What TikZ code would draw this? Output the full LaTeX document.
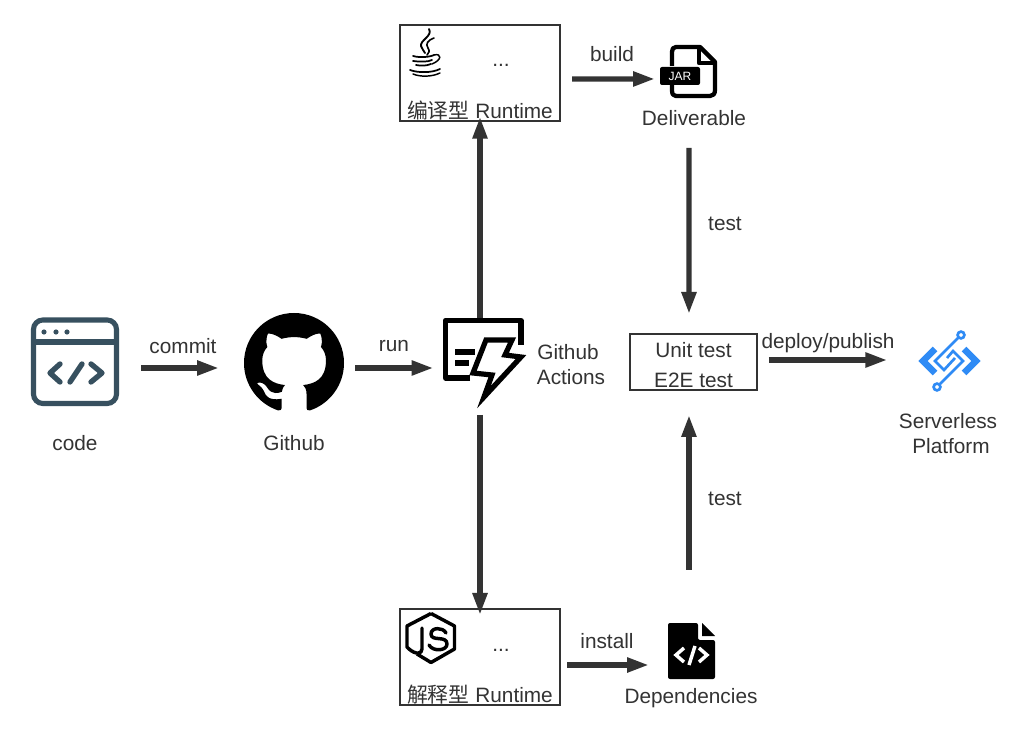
\documentclass[tikz,border=0pt]{standalone}
\usepackage{fontspec}
\setmainfont{Liberation Sans}
\newfontfamily\cjk{Noto Sans CJK SC}
\usetikzlibrary{arrows.meta,svg.path}
\definecolor{ink}{HTML}{333333}
\definecolor{slate}{HTML}{37505F}
\definecolor{azure}{HTML}{2F8BF5}
\tikzset{
  zone/.style={inner sep=0pt,outer sep=0pt},
  lbl/.style={inner sep=0pt,outer sep=0pt,text=ink,font=\fontsize{15.6}{18}\selectfont},
  rtbox/.style={draw=ink,line width=1.5pt,inner sep=0pt,outer sep=0pt,minimum width=120pt,minimum height=72pt},
  testbox/.style={draw=ink,line width=1.2pt,inner sep=0pt,outer sep=0pt,minimum width=95pt,minimum height=42pt},
  flow/.style={draw=ink,line width=4pt,-{Triangle[length=16.5pt,width=10.5pt]}},
}
\begin{document}
\begin{tikzpicture}[x=0.75pt,y=-0.75pt]
\path[use as bounding box] (0,0) rectangle (1032,730);
\fill[white] (0,0) rectangle (1032,730);

% zones (true extents of the icons)
\node[zone,minimum width=66pt,minimum height=66.75pt] (code) at (75,362) {};
\node[zone,minimum width=75pt,minimum height=73.5pt] (github) at (294,362) {};
\node[zone,minimum width=60.75pt,minimum height=66pt] (actions) at (480,361) {};
\node[zone,minimum width=42.75pt,minimum height=39.75pt] (jar) at (688.5,71.5) {};
\node[zone,minimum width=35.25pt,minimum height=42pt] (dep) at (691.5,651) {};
\node[zone,minimum width=45pt,minimum height=45pt] (srv) at (948,361) {};

% boxes
\node[rtbox] (rta) at (480,73) {};
\node[rtbox] (rtb) at (480,657) {};
\node[testbox] (tests) at (693.5,362) {};

% connectors
\draw[flow,shorten <=16.5pt,shorten >=18.75pt] ([yshift=-4.5pt]code.east) -- ([yshift=-4.5pt]github.west);
\draw[flow,shorten <=8.25pt,shorten >=4.5pt] ([yshift=-4.5pt]github.east) -- ([yshift=-5.25pt]actions.west);
\draw[flow,shorten <=-4.5pt,shorten >=-3.25pt] (actions.north) -- (rta.south);
\draw[flow,shorten <=7.5pt,shorten >=-4.5pt] (actions.south) -- (rtb.north);
\draw[flow,shorten <=9pt,shorten >=3.75pt] ([yshift=-4.5pt]rta.east) -- ([yshift=-5.6pt]jar.west);
\draw[flow,shorten <=5.25pt,shorten >=14.25pt] ([yshift=-6pt]rtb.east) -- ([yshift=-10.5pt]dep.west);
\draw[flow,shorten <=37.5pt,shorten >=15pt] ([xshift=0.4pt]jar.south) -- ([xshift=-3.4pt]tests.north);
\draw[flow,shorten <=39.75pt,shorten >=18.75pt] ([xshift=-1.9pt]dep.north) -- ([xshift=-3.4pt]tests.south);
\draw[flow,shorten <=9pt,shorten >=23pt] ([yshift=1.5pt]tests.east) -- ([yshift=0.75pt]srv.west);

% labels
\node[lbl] (lunit) at (693.5,350) {Unit test};
\node[lbl] (le2e) at (693.5,380) {E2E test};
\node[lbl] (lcommit) at (183,346) {commit};
\node[lbl] (lcode) at (75,443) {code};
\node[lbl] (lgit) at (294,443) {Github};
\node[lbl] (lrun) at (394,346) {run};
\node[lbl] (lact) at (568,352) {Github};
\node[lbl] (lact2) at (571,377) {Actions};
\node[lbl] (lbuild) at (612,54) {build};
\node[lbl] (ldel) at (694,118) {Deliverable};
\node[lbl] (ltest1) at (725,224) {test};
\node[lbl] (ltest2) at (725,499) {test};
\node[lbl] (ldeploy) at (828,343) {deploy/publish};
\node[lbl] (lsrv) at (948,421) {Serverless};
\node[lbl] (lplat) at (951,446) {Platform};
\node[lbl] (linstall) at (607,641) {install};
\node[lbl] (ldep) at (691,698) {Dependencies};
\node[lbl] (dotsa) at (501,65) {...};
\node[lbl] (dotsb) at (501,650) {...};
\node[lbl] (rtal) at (480,111) {{\cjk 编译型} Runtime};
\node[lbl] (rtbl) at (480,695) {{\cjk 解释型} Runtime};

% code icon
\begin{scope}[slate]
\draw[line width=3.8pt,rounded corners=7pt] (33.5,320) rectangle (116.5,403.5);
\draw[line width=3.8pt] (33.5,342) -- (116.5,342);
\fill (44,332) circle (2.6) (56,332) circle (2.6) (67,332) circle (2.6);
\draw[line width=4pt,line cap=round,line join=round] (60,364) -- (50,373) -- (60,382) (82,364) -- (70,382) (91,364) -- (102,373) -- (91,382);
\end{scope}

% github mark
\begin{scope}[shift={(244,313)},xscale=4.6875,yscale=-4.6875]
\fill[black] svg {M 8 0 C 3.58 0 0 3.58 0 8 c 0 3.54 2.29 6.53 5.47 7.59 c 0.4 0.07 0.55 -0.17 0.55 -0.38 c 0 -0.19 -0.01 -0.82 -0.01 -1.49 c -2.01 0.37 -2.53 -0.49 -2.69 -0.94 c -0.09 -0.23 -0.48 -0.94 -0.82 -1.13 c -0.28 -0.15 -0.68 -0.52 -0.01 -0.53 c 0.63 -0.01 1.08 0.58 1.23 0.82 c 0.72 1.21 1.87 0.87 2.33 0.66 c 0.07 -0.52 0.28 -0.87 0.51 -1.07 c -1.78 -0.2 -3.64 -0.89 -3.64 -3.95 c 0 -0.87 0.31 -1.59 0.82 -2.15 c -0.08 -0.2 -0.36 -1.02 0.08 -2.12 c 0 0 0.67 -0.21 2.2 0.82 c 0.64 -0.18 1.32 -0.27 2 -0.27 c 0.68 0 1.36 0.09 2 0.27 c 1.53 -1.04 2.2 -0.82 2.2 -0.82 c 0.44 1.1 0.16 1.92 0.08 2.12 c 0.51 0.56 0.82 1.27 0.82 2.15 c 0 3.07 -1.87 3.75 -3.65 3.95 c 0.29 0.25 0.54 0.73 0.54 1.48 c 0 1.07 -0.01 1.93 -0.01 2.2 c 0 0.21 0.15 0.46 0.55 0.38 C 13.71 14.53 16 11.54 16 8 c 0 -4.42 -3.58 -8 -8 -8 z};
\end{scope}

% actions icon
\begin{scope}[black,line width=3.9pt,line join=miter]
\draw[line join=round] (470,378) -- (445.5,378) -- (445.5,320.5) -- (521,320.5) -- (521,345);
\draw (486,340) -- (512,340) -- (505,355) -- (521,357) -- (484,397) -- (492,375) -- (473,373) -- cycle;
\draw (455,352) -- (475,352) (455,363) -- (469,363);
\end{scope}

% java logo
\begin{scope}[black,line cap=round]
\draw[line width=1.4pt] (429,29) .. controls (433,36) and (420,40) .. (421,46) .. controls (422,49) and (424,51) .. (425,53);
\draw[line width=1.2pt] (434,38) .. controls (428,40) and (425,44) .. (428,48) .. controls (430,51) and (429,53) .. (427,55);
\draw[line width=1.3pt] (413,56) .. controls (420,58) and (430,57) .. (434,55);
\draw[line width=1.3pt] (413,61) .. controls (420,62) and (428,62) .. (432,60);
\draw[line width=1.3pt] (416,65) .. controls (421,66) and (426,66) .. (431,64);
\draw[line width=1.1pt] (434,55) .. controls (442,53) and (442,60) .. (432,64);
\draw[line width=1.3pt] (410,70) .. controls (418,73) and (432,73) .. (440,69);
\draw[line width=1.1pt] (413,74) .. controls (420,77) and (432,77) .. (440,73);
\end{scope}

% jar icon
\draw[black,line width=3.2pt,line join=round] (672,66) -- (672,52) .. controls (672,49) and (673,47) .. (676,47) -- (700,47) -- (715,62) -- (715,90) .. controls (715,94) and (713,96) .. (710,96) -- (676,96) .. controls (673,96) and (672,94) .. (672,90) -- (672,85);
\draw[black,line width=3.2pt,line join=round] (699,47) -- (699,63) -- (715,63);
\fill[black,rounded corners=1.5pt] (660,67) rectangle (700,85);
\node[inner sep=0pt,text=white,font=\fontsize{9}{10}\selectfont] (jartxt) at (680,76) {JAR};

% js icon
\begin{scope}[black,line join=round]
\draw[line width=2.6pt] (431,613.5) -- (454.5,626) -- (454.5,649) -- (431,662.5) -- (417,654);
\draw[line width=2.6pt] (409,649) -- (407,647) -- (407,626) -- (431,613.5);
\draw[line width=2.6pt,line cap=round] (422,628) -- (422,649) .. controls (422,654) and (416,655) .. (409,649);
\draw[line width=2.6pt,line cap=round] (446,633) .. controls (443,627) and (431,627) .. (431,634) .. controls (431,642) and (447,635) .. (447,644) .. controls (447,651) and (433,652) .. (429,645);
\end{scope}

% dependencies icon
\fill[black,rounded corners=1.5pt] (668,623) -- (698,623) -- (698,640) -- (715,640) -- (715,679) -- (668,679) -- cycle;
\fill[black] (702,623) -- (715,636) -- (702,636) -- cycle;
\draw[white,line width=2.6pt] (684,648) -- (676,655) -- (684,662) (695,646) -- (689,665) (699,648) -- (707,655) -- (699,662);

% serverless icon
\begin{scope}[azure]
\draw[line width=5pt,miter limit=10] (935,349) -- (923,361) -- (935,373);
\draw[line width=5pt,miter limit=10] (964,349) -- (976,361) -- (964,373);
\draw[line width=2pt] (961,335) circle (3.4);
\draw[line width=2pt] (937,387) circle (3.4);
\draw[line width=2pt,line join=miter] (958,338) -- (935,361) -- (944,370) -- (955,358);
\draw[line width=2pt,line join=miter] (940,384) -- (963,361) -- (953,351) -- (947,358);
\end{scope}
\end{tikzpicture}
\end{document}
